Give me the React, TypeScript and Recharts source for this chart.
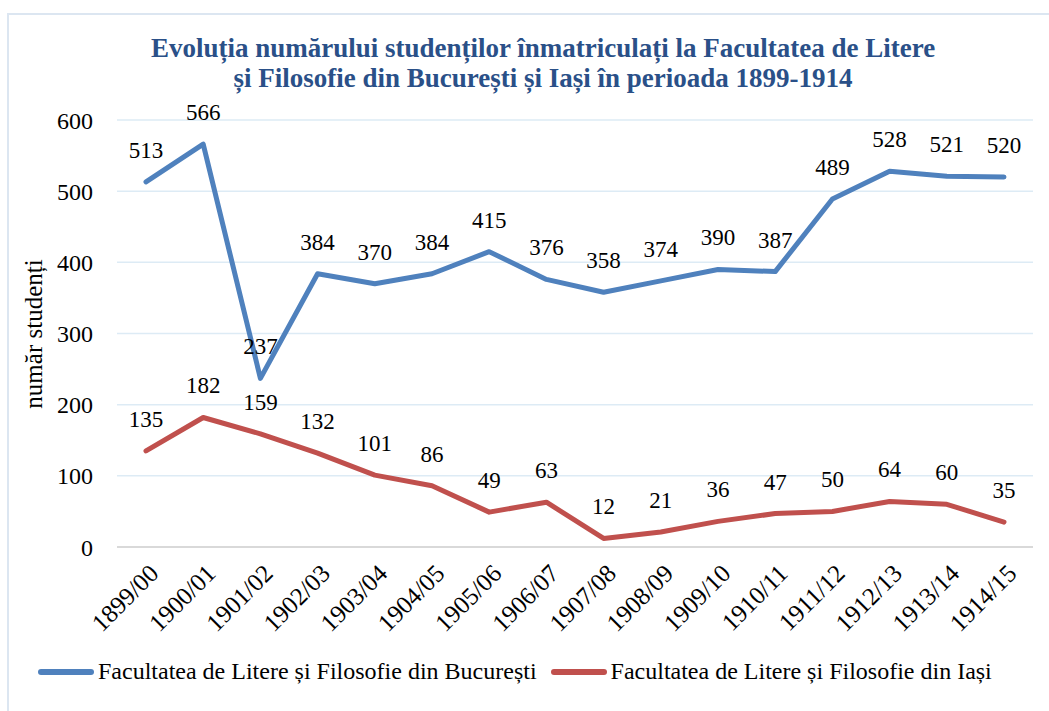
import { LineChart, Line, XAxis, YAxis, CartesianGrid, Legend, LabelList } from 'recharts';

const YEARS = ['1899/00','1900/01','1901/02','1902/03','1903/04','1904/05','1905/06','1906/07','1907/08','1908/09','1909/10','1910/11','1911/12','1912/13','1913/14','1914/15'];
const BUCURESTI = [513, 566, 237, 384, 370, 384, 415, 376, 358, 374, 390, 387, 489, 528, 521, 520];
const IASI = [135, 182, 159, 132, 101, 86, 49, 63, 12, 21, 36, 47, 50, 64, 60, 35];
const Y_TICKS = [0, 100, 200, 300, 400, 500, 600];

const NAME_B = 'Facultatea de Litere și Filosofie din București';
const NAME_I = 'Facultatea de Litere și Filosofie din Iași';

const data = YEARS.map((y, i) => ({ an: y, b: BUCURESTI[i], i: IASI[i] }));

const FONT = "'Liberation Serif', 'Times New Roman', serif";
const BLUE = '#4F81BD';
const RED = '#C0504D';

function YearTick({ x, y, payload }: any) {
  return (
    <g transform={`translate(${x + 14},${y + 20})`}>
      <text textAnchor="end" transform="rotate(-45)" fontSize={25} style={{ fontFamily: FONT }} fill="#000">
        {payload.value}
      </text>
    </g>
  );
}

function LegendBox() {
  const items = [{ name: NAME_B, color: BLUE }, { name: NAME_I, color: RED }];
  return (
    <div style={{ display: 'flex', alignItems: 'center', fontFamily: FONT, fontSize: 24, color: '#000' }}>
      {items.map(it => (
        <div key={it.name} style={{ display: 'flex', alignItems: 'center', marginRight: 14 }}>
          <span style={{ display: 'inline-block', width: 56, height: 6, borderRadius: 3, background: it.color, marginRight: 4 }} />
          <span>{it.name}</span>
        </div>
      ))}
    </div>
  );
}

export default function App() {
  return (
    <div style={{ position: 'absolute', left: 0, top: 0, width: 1049, height: 711, background: '#fff', overflow: 'hidden', fontFamily: FONT }}>
      <div style={{ position: 'absolute', left: 7, top: 13, width: 1080, height: 760, border: '2px solid #DCE6F1' }} />
      <div style={{ position: 'absolute', left: 0, width: 1086, top: 33, textAlign: 'center', fontWeight: 'bold', fontSize: 27, lineHeight: '30px', color: '#2A5088' }}>
        Evoluția numărului studenților înmatriculați la Facultatea de Litere<br />
        și Filosofie din București și Iași în perioada 1899-1914
      </div>
      <LineChart width={1049} height={711} data={data} style={{ fontFamily: FONT }} margin={{ top: 120, right: 16, left: 0, bottom: 0 }}>
        <CartesianGrid vertical={false} stroke="#DDEBF5" strokeWidth={1.5} />
        <XAxis dataKey="an" tick={<YearTick />} axisLine={{ stroke: '#D9D9D9', strokeWidth: 2 }} tickLine={false} interval={0}
          height={164} padding={{ left: 29, right: 29 }} />
        <YAxis domain={[0, 600]} ticks={Y_TICKS} width={117} axisLine={false} tickLine={false} tickMargin={18}
          tick={{ fontSize: 24, fill: '#000', style: { fontFamily: FONT } }}
          label={() => (
            <text x={36} y={334} transform="rotate(-90,36,334)" textAnchor="middle" dominantBaseline="middle" fontSize={25} style={{ fontFamily: FONT }} fill="#000">
              număr studenți
            </text>
          )} />
        <Legend layout="horizontal" verticalAlign="middle" align="center" content={<LegendBox />}
          wrapperStyle={{ top: 658, left: 38, width: 1000 }} />
        <Line dataKey="b" name={NAME_B} stroke={BLUE} strokeWidth={5} dot={false} strokeLinejoin="round" strokeLinecap="round" isAnimationActive={false}>
          <LabelList dataKey="b" position="top" offset={24} fontSize={23} style={{ fontFamily: FONT }} fill="#000" />
        </Line>
        <Line dataKey="i" name={NAME_I} stroke={RED} strokeWidth={5} dot={false} strokeLinejoin="round" strokeLinecap="round" isAnimationActive={false}>
          <LabelList dataKey="i" position="top" offset={24} fontSize={23} style={{ fontFamily: FONT }} fill="#000" />
        </Line>
      </LineChart>
    </div>
  );
}
